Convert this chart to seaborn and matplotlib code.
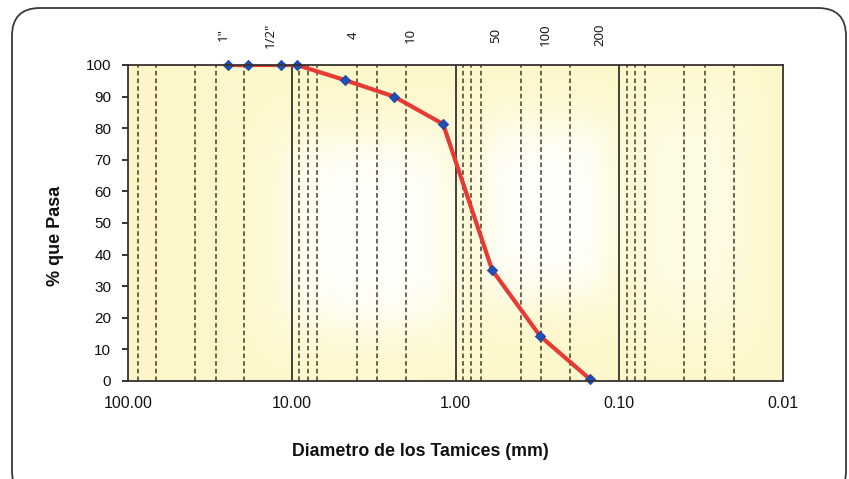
import numpy as np
import pandas as pd
import matplotlib
matplotlib.use("Agg")
import matplotlib.pyplot as plt
import seaborn as sns
from matplotlib import font_manager
from matplotlib.patches import FancyBboxPatch
from matplotlib.ticker import FixedLocator, FixedFormatter, NullLocator

# ---- data ----
diam_mm = [24.5, 18.5, 11.6, 9.3, 4.72, 2.37, 1.19, 0.597, 0.304, 0.151]
pct_pasa = [100, 100, 100, 100, 95.2, 90.0, 81.3, 35.1, 14.2, 0.6]

sieve_labels = ['1"', '1/2"', '4', '10', '50', '100', '200']
sieve_label_pos = [26.3, 13.6, 4.22, 1.89, 0.565, 0.284, 0.131]

decade_lines = [10, 1, 0.1]
dashed_lines = [87, 67, 39, 29, 19.5,
                9, 8, 7, 4, 3, 2,
                0.9, 0.8, 0.7, 0.4, 0.3, 0.2,
                0.09, 0.08, 0.07, 0.04, 0.03, 0.02]

x_ticks = [100, 10, 1, 0.1, 0.01]
x_ticklabels = ["100.00", "10.00", "1.00", "0.10", "0.01"]
y_ticks = list(range(0, 101, 10))

df = pd.DataFrame({"d": diam_mm, "p": pct_pasa})

# ---- figure ----
sns.set_style("white")
plt.rcParams['font.family'] = ['Liberation Sans', 'DejaVu Sans']

installed = {f.name for f in font_manager.fontManager.ttflist}
if "Liberation Sans Narrow" in installed:
    xl_family, xl_size = ["Liberation Sans Narrow", "Liberation Sans"], 14.5
else:
    xl_family, xl_size = ["Liberation Sans", "DejaVu Sans"], 12.8

fig = plt.figure(figsize=(8.49, 4.79), dpi=100)
ax = fig.add_axes([128 / 849, 98 / 479, 655 / 849, 316 / 479])

# outer rounded chart border (in inches)
border = FancyBboxPatch((0.12, -0.2), 8.34, 4.79 - 0.08 + 0.2,
                        boxstyle="round,pad=0,rounding_size=0.28",
                        transform=fig.dpi_scale_trans, fill=False,
                        edgecolor="#3a3a3a", linewidth=1.3, clip_on=False)
fig.patches.append(border)

# background gradient in plot area
nx, ny = 400, 200
xx, yy = np.meshgrid(np.linspace(0, 1, nx), np.linspace(1, 0, ny))
g1 = np.exp(-((xx - 0.37) / 0.14) ** 4 - ((yy - 0.47) / 0.33) ** 4)
g2 = np.exp(-((xx - 0.64) / 0.11) ** 4 - ((yy - 0.54) / 0.30) ** 4)
g3 = 0.5 * np.exp(-((xx - 0.86) / 0.09) ** 4 - ((yy - 0.55) / 0.38) ** 4)
w = np.clip(np.maximum(np.maximum(g1, g2), g3), 0, 1)
yellow = np.array([253, 248, 204]) / 255.0
white = np.array([255, 255, 252]) / 255.0
edge = np.exp(-(xx / 0.06) ** 2)[..., None]
img = yellow * (1 - w[..., None]) + white * w[..., None]
img = img * (1 - 0.4 * edge) + (np.array([251, 242, 185]) / 255.0) * 0.4 * edge
ax.imshow(img, extent=[0, 1, 0, 1], transform=ax.transAxes, aspect="auto",
          zorder=0, interpolation="bilinear")

ax.set_xscale("log")
ax.set_xlim(100, 0.01)
ax.set_ylim(0, 100)

for v in dashed_lines:
    ax.axvline(v, color="#4a3a28", linewidth=1.1, linestyle=(0, (3, 2)), zorder=1)
for v in decade_lines:
    ax.axvline(v, color="#222222", linewidth=1.2, zorder=1)

sns.lineplot(data=df, x="d", y="p", ax=ax, color="#E63A33", linewidth=3.0,
             sort=False, zorder=3, legend=False)
sns.scatterplot(data=df, x="d", y="p", ax=ax, marker="D", color="#1F4FB8",
                s=28, edgecolor="#1a3d8f", linewidth=0.5, zorder=4, clip_on=False,
                legend=False)

for lab, pos in zip(sieve_labels, sieve_label_pos):
    ax.text(pos, 1.095, lab, rotation=90, ha="center", va="center",
            fontsize=9.5, fontweight="bold", color="#1a1a1a",
            family=["Noto Sans", "DejaVu Sans"],
            transform=ax.get_xaxis_transform())

ax.xaxis.set_major_locator(FixedLocator(x_ticks))
ax.xaxis.set_major_formatter(FixedFormatter(x_ticklabels))
ax.xaxis.set_minor_locator(NullLocator())
ax.set_yticks(y_ticks)
ax.tick_params(axis="x", length=0, pad=11, labelsize=11.5, colors="#111111")
ax.tick_params(axis="y", length=4, width=1.2, left=True, direction="out",
               pad=8, labelsize=11, colors="#111111")

for s in ax.spines.values():
    s.set_color("#3a3030")
    s.set_linewidth(1.3)
    s.set_zorder(5)

ax.set_xlabel("Diametro de los Tamices (mm)", fontsize=xl_size, fontweight="bold",
              color="#111111", family=xl_family)
ax.xaxis.set_label_coords(0.447, -0.195)
ax.set_ylabel("% que Pasa", fontsize=13, fontweight="bold", color="#111111")
ax.yaxis.set_label_coords(-0.098, 0.46)

fig.savefig("out.png", dpi=100, facecolor="white")
